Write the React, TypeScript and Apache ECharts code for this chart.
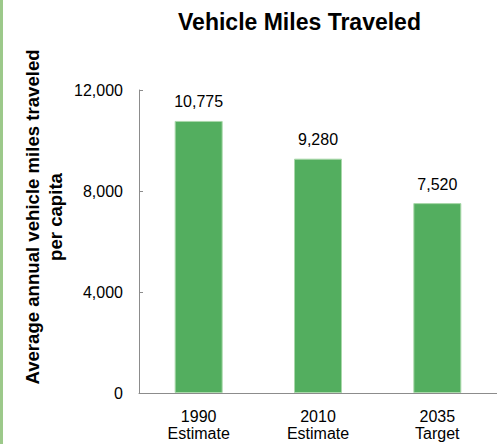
import React, { useEffect, useRef } from "react";
import * as echarts from "echarts";

const categories = ["1990\nEstimate", "2010\nEstimate", "2035\nTarget"];
const vmtValues = [10775, 9280, 7520];
const yTicks = [0, 4000, 8000, 12000];
const titleText = "Vehicle Miles Traveled";
const yAxisName = "Average annual vehicle miles traveled\nper capita";

const FONT = "'Liberation Sans', Arial, sans-serif";

export default function App() {
  const ref = useRef<HTMLDivElement>(null);
  useEffect(() => {
    document.body.style.margin = "0";
    if (!ref.current) return;
    const chart = echarts.init(ref.current, null, { renderer: "svg" });
    const fmt = (v: number) => v.toLocaleString("en-US");
    chart.setOption({
      animation: false,
      backgroundColor: "#ffffff",
      textStyle: { fontFamily: FONT },
      grid: { left: 139, top: 90, width: 360, height: 303 },
      graphic: [
        { type: "rect", left: 0, top: 0, shape: { x: 0, y: 0, width: 3, height: 444 }, style: { fill: "#9cc98a" } },
        {
          type: "text",
          x: 299.5,
          y: 22,
          style: { text: titleText, fontFamily: FONT, fontSize: 23, fontWeight: "bold", fill: "#000", align: "center", verticalAlign: "middle" },
        },
        {
          type: "text",
          x: 44,
          y: 217,
          rotation: Math.PI / 2,
          style: { text: yAxisName, fontFamily: FONT, fontSize: 18.6, fontWeight: "bold", lineHeight: 23, fill: "#000", align: "center", verticalAlign: "middle" },
        },
      ],
      xAxis: {
        type: "category",
        data: categories,
        axisLine: { show: true, lineStyle: { color: "#8c8c8c", width: 1 } },
        axisTick: { show: false },
        axisLabel: { fontSize: 16, lineHeight: 17, color: "#000", margin: 15, fontFamily: FONT },
      },
      yAxis: {
        type: "value",
        min: yTicks[0],
        max: yTicks[yTicks.length - 1],
        interval: yTicks[1] - yTicks[0],
        axisLine: { show: true, lineStyle: { color: "#8c8c8c", width: 1 } },
        axisTick: { show: true, inside: true, length: 4, lineStyle: { color: "#8c8c8c" } },
        splitLine: { show: false },
        axisLabel: { fontSize: 16, color: "#000", margin: 16, fontFamily: FONT, formatter: (v: number) => fmt(v) },
      },
      series: [
        {
          type: "bar",
          data: vmtValues,
          barWidth: 48,
          itemStyle: { color: "#53ae5f", borderColor: "#a9d8aa", borderWidth: 1 },
          label: { show: true, position: "top", distance: 11, fontSize: 16, color: "#000", fontFamily: FONT, formatter: (p: any) => fmt(p.value) },
        },
      ],
    });
    return () => chart.dispose();
  }, []);
  return <div ref={ref} style={{ position: "fixed", left: 0, top: 0, width: 497, height: 444 }} />;
}
